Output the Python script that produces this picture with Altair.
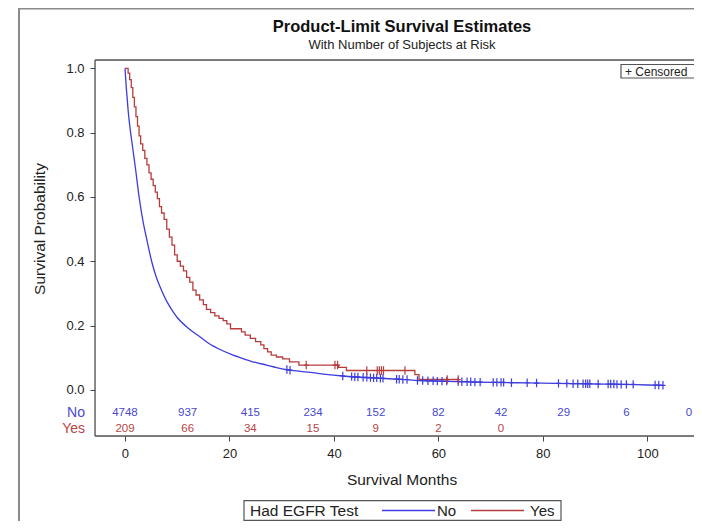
import altair as alt
import pandas as pd

# ---------------- data ----------------
no_t = [0, 0.3, 0.6, 1.0, 1.5, 2.0, 2.7, 3.5, 4.2, 5.1, 6.0, 7.0, 8.0, 9.0, 10.0, 12.0,
        14.4, 16.0, 18.0, 20.7, 23.0, 25.0, 27.1, 29.0, 31.2, 35, 38, 41.7, 45, 48.8, 52,
        56, 60, 65, 70, 75, 80, 85, 90, 95, 100, 103]
no_s = [1.0, 0.93, 0.87, 0.81, 0.75, 0.69, 0.60, 0.52, 0.466, 0.40, 0.35, 0.31, 0.275,
        0.248, 0.225, 0.193, 0.164, 0.145, 0.127, 0.108, 0.095, 0.085, 0.077, 0.069,
        0.062, 0.055, 0.049, 0.043, 0.039, 0.036, 0.033, 0.029, 0.027, 0.025, 0.023,
        0.022, 0.021, 0.019, 0.018, 0.017, 0.015, 0.014]

yes_t = [0, 0.6, 0.9, 1.2, 1.5, 1.8, 2.1, 2.4, 2.7, 3.0, 3.4, 3.8, 4.2, 4.6, 5.0, 5.4,
         5.8, 6.2, 6.6, 7.0, 7.5, 8.0, 8.5, 9.0, 9.5, 10.0, 10.6, 11.2, 11.8, 12.4, 13.0,
         13.6, 14.3, 15.0, 15.6, 16.4, 17.2, 18.0, 18.8, 19.5, 20.2, 22.3, 23.0, 24.0,
         25.0, 26.0, 26.6, 27.3, 28.0, 29.0, 30.2, 31.5, 33.3, 40.9, 42.4, 55.5, 56.3, 64.0]
yes_s = [1.0, 0.985, 0.965, 0.94, 0.91, 0.88, 0.85, 0.82, 0.79, 0.765, 0.745, 0.72, 0.70,
         0.675, 0.655, 0.635, 0.615, 0.595, 0.57, 0.55, 0.53, 0.50, 0.475, 0.45, 0.42,
         0.40, 0.385, 0.37, 0.35, 0.335, 0.31, 0.295, 0.28, 0.265, 0.25, 0.24, 0.23,
         0.222, 0.215, 0.205, 0.19, 0.18, 0.17, 0.16, 0.15, 0.14, 0.128, 0.118, 0.108,
         0.102, 0.096, 0.087, 0.077, 0.070, 0.060, 0.047, 0.032, 0.032]

no_cens_t = [31.0, 31.6, 41.7, 43.4, 44.0, 44.6, 45.6, 46.3, 47.0, 47.6, 48.2, 48.9, 49.4,
             52.0, 52.5, 53.2, 54.0, 56.0, 57.0, 58.0, 59.0, 59.8, 60.7, 61.6, 63.8, 64.5,
             65.5, 66.2, 67.0, 68.0, 70.5, 71.2, 72.0, 72.5, 74.0, 77.0, 78.8, 83.0, 84.6,
             85.8, 86.7, 87.7, 88.2, 88.6, 89.0, 90.6, 92.5, 93.0, 93.6, 94.2, 95.0, 96.0,
             97.3, 101.5, 102.2, 103.0]
no_cens_s = [0.063, 0.061, 0.043, 0.041, 0.040, 0.040, 0.039, 0.039, 0.038, 0.037, 0.037,
             0.036, 0.036, 0.033, 0.033, 0.032, 0.032, 0.029, 0.029, 0.028, 0.028, 0.027,
             0.027, 0.027, 0.026, 0.025, 0.025, 0.025, 0.024, 0.024, 0.023, 0.023, 0.023,
             0.023, 0.022, 0.022, 0.021, 0.020, 0.020, 0.019, 0.019, 0.019, 0.019, 0.019,
             0.019, 0.018, 0.018, 0.018, 0.018, 0.017, 0.017, 0.017, 0.017, 0.015, 0.015,
             0.014]

yes_cens_t = [34.7, 40.2, 40.7, 46.3, 48.3, 48.7, 49.1, 49.5, 53.6, 61.7, 63.8]
yes_cens_s = [0.077, 0.077, 0.077, 0.060, 0.060, 0.060, 0.060, 0.060, 0.060, 0.032, 0.032]

risk_times = [0, 12, 24, 36, 48, 60, 72, 84, 96, 108]
risk_no = [4748, 937, 415, 234, 152, 82, 42, 29, 6, 0]
risk_yes = [209, 66, 34, 15, 9, 2, 0]

x_ticks = [0, 20, 40, 60, 80, 100]
y_ticks = [0.0, 0.2, 0.4, 0.6, 0.8, 1.0]

BLUE = "#3C3CE0"
BLUE_T = "#4848D0"
RED = "#B83C3C"
RED_T = "#B84444"
FONT = "Liberation Sans"

W, H = 599, 376
X_MAX = -5.74 + W / 5.223

no_df = pd.DataFrame({"t": no_t, "s": no_s})
yes_df = pd.DataFrame({"t": yes_t, "s": yes_s})
no_c = pd.DataFrame({"t": no_cens_t, "s": no_cens_s})
yes_c = pd.DataFrame({"t": yes_cens_t, "s": yes_cens_s})
rno = pd.DataFrame({"t": risk_times, "n": [str(v) for v in risk_no]})
ryes = pd.DataFrame({"t": risk_times[:len(risk_yes)], "n": [str(v) for v in risk_yes]})

xs = alt.Scale(domain=[-5.74, X_MAX], nice=False, zero=False)
ys = alt.Scale(domain=[-0.1437, 1.026], nice=False, zero=False)

xax = alt.Axis(values=x_ticks, title=None, grid=False, domain=False, tickSize=5,
               tickColor="#444", labelFontSize=13, labelColor="#222", labelFont=FONT,
               labelPadding=6, format="d")
yax = alt.Axis(values=y_ticks, title=None, grid=False, domain=False, tickSize=5,
               tickColor="#444", labelFontSize=13, labelColor="#222", labelFont=FONT,
               labelPadding=6, format=".1f")

X = alt.X("t:Q", scale=xs, axis=xax)
Y = alt.Y("s:Q", scale=ys, axis=yax)

no_line = alt.Chart(no_df).mark_line(color=BLUE, strokeWidth=1.3,
                                     interpolate="monotone").encode(x=X, y=Y)
yes_line = alt.Chart(yes_df).mark_line(color=RED, strokeWidth=1.3,
                                       interpolate="step-after").encode(x=X, y=Y)
plus = "M0,-1L0,1M-0.6,0L0.6,0"
no_cm = alt.Chart(no_c).mark_point(shape=plus, filled=False, color=BLUE, size=70,
                                   strokeWidth=1.2, opacity=1).encode(x=X, y=Y)
yes_cm = alt.Chart(yes_c).mark_point(shape=plus, filled=False, color=RED, size=70,
                                     strokeWidth=1.2, opacity=1).encode(x=X, y=Y)

risk_no_t = alt.Chart(rno).mark_text(color=BLUE_T, fontSize=11.5, font=FONT).encode(
    x=X, y=alt.value(352.7), text="n:N")
risk_yes_t = alt.Chart(ryes).mark_text(color=RED_T, fontSize=11.5, font=FONT).encode(
    x=X, y=alt.value(369), text="n:N")

one = pd.DataFrame({"a": [0]})


def txt(s, x, y, size=12, color="#222", align="center", weight="normal", angle=0):
    return alt.Chart(one).mark_text(fontSize=size, font=FONT, color=color, align=align,
                                    baseline="middle", fontWeight=weight,
                                    angle=angle).encode(
        x=alt.value(x), y=alt.value(y), text=alt.value(s))


def hrule(x1, x2, y, color, w):
    return alt.Chart(one).mark_rule(color=color, strokeWidth=w).encode(
        x=alt.value(x1), x2=alt.value(x2), y=alt.value(y))


def vrule(x, y1, y2, color, w):
    return alt.Chart(one).mark_rule(color=color, strokeWidth=w).encode(
        x=alt.value(x), y=alt.value(y1), y2=alt.value(y2))


def box(x1, x2, y1, y2):
    return alt.Chart(one).mark_rect(fill="white", stroke="#555", strokeWidth=1.2).encode(
        x=alt.value(x1), x2=alt.value(x2), y=alt.value(y1), y2=alt.value(y2))


decor = [
    # outer graph border
    hrule(-76, W + 10, -51.5, "#8a8a8a", 2),
    vrule(-76, -52, 475, "#8a8a8a", 2),
    # plot frame
    hrule(0, W + 10, 0, "#555", 1.3),
    vrule(0, 0, H, "#555", 1.3),
    hrule(0, W + 10, H, "#555", 1.3),
    # titles
    txt("Product-Limit Survival Estimates", 307, -33, 16.5, "#111", weight="bold"),
    txt("With Number of Subjects at Risk", 307, -15, 13, "#222"),
    txt("Survival Probability", -55, 169, 15.5, "#222", angle=270),
    txt("Survival Months", 307, 420, 15.5, "#222"),
    # at-risk row labels
    txt("No", -10, 352.7, 14, BLUE_T, align="right"),
    txt("Yes", -10, 369, 14, RED_T, align="right"),
    # censored legend
    box(526, 612, 4.5, 18),
    txt("+ Censored", 530, 11.5, 12, "#222", align="left"),
    # group legend
    box(149, 466, 440.7, 460.3),
    txt("Had EGFR Test", 155, 450.7, 15.5, "#222", align="left"),
    hrule(287, 340, 450.5, BLUE, 1.3),
    txt("No", 342, 450.7, 15, "#222", align="left"),
    hrule(376, 429, 450.5, RED, 1.3),
    txt("Yes", 435, 450.7, 15, "#222", align="left"),
]

chart = alt.layer(no_line, yes_line, no_cm, yes_cm, risk_no_t, risk_yes_t, *decor).properties(
    width=W, height=H,
    autosize=alt.AutoSizeParams(type="none"),
    padding={"left": 87, "top": 52, "right": 0, "bottom": 85},
).configure_view(stroke=None).configure(background="white")

chart.save("out.html", embed_options={"renderer": "svg", "actions": False})
